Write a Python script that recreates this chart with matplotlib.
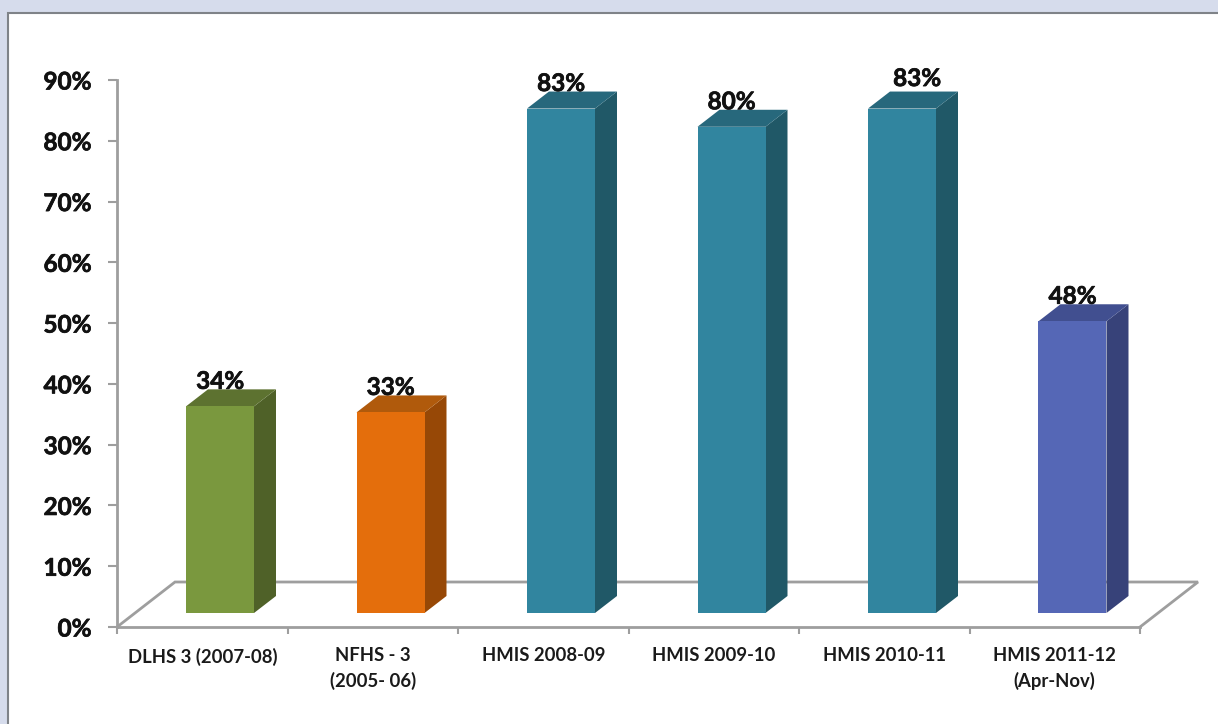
import matplotlib
matplotlib.use('Agg')
import matplotlib.pyplot as plt
import matplotlib.patheffects as pe
from matplotlib.patches import Polygon, Rectangle

plt.rcParams['font.family'] = ['Lato', 'DejaVu Sans']

categories = ['DLHS 3 (2007-08)', 'NFHS - 3\n(2005- 06)', 'HMIS 2008-09',
              'HMIS 2009-10', 'HMIS 2010-11', 'HMIS 2011-12\n(Apr-Nov)']
values = [34, 33, 83, 80, 83, 48]
y_ticks = [0, 10, 20, 30, 40, 50, 60, 70, 80, 90]

front_colors = ['#7a983e', '#e46e0c', '#31859f', '#31859f', '#31859f', '#5567b6']
side_colors = ['#4f6128', '#974806', '#205867', '#205867', '#205867', '#374279']
top_colors = ['#5d7230', '#b05a0c', '#27687c', '#27687c', '#27687c', '#414f90']

W, H = 1218, 724
fig = plt.figure(figsize=(W / 100, H / 100), dpi=100, facecolor='#d6dcec')

# white panel behind the chart
fig.add_artist(Rectangle((8 / W, -0.01), 1.01, (H - 13) / H + 0.01, transform=fig.transFigure,
                         facecolor='white', edgecolor='#7f8388', linewidth=1.5, zorder=-1))

ax = fig.add_axes([117 / W, (H - 627) / H, 1023 / W, 547 / H])
ax.set_xlim(0, 6)
ax.set_ylim(0, 90)
ax.patch.set_alpha(0)

# pixel sizes turned to data units
px_x = 6 / 1023
px_y = 90 / 547
depth_x = 22 * px_x
depth_y = 17 * px_y
base = 14 * px_y
bar_w = 68 * px_x
bar_off = 69 * px_x

# floor of the 3d chart
floor_dx = 58 * px_x
floor_dy = 45 * px_y
grey = '#9e9e9e'
ax.plot([0, floor_dx, 6 + floor_dx, 6], [0, floor_dy, floor_dy, 0], color=grey,
        lw=2, clip_on=False, solid_joinstyle='miter', zorder=1)

thick = [pe.withStroke(linewidth=0.5, foreground='#111111')]

for i, v in enumerate(values):
    x0 = i + bar_off
    x1 = x0 + bar_w
    y0 = base
    y1 = base + v
    ax.add_patch(Polygon([(x1, y0), (x1 + depth_x, y0 + depth_y), (x1 + depth_x, y1 + depth_y), (x1, y1)],
                         facecolor=side_colors[i], edgecolor='none', clip_on=False, zorder=3))
    ax.add_patch(Polygon([(x0, y1), (x1, y1), (x1 + depth_x, y1 + depth_y), (x0 + depth_x, y1 + depth_y)],
                         facecolor=top_colors[i], edgecolor='none', clip_on=False, zorder=3))
    ax.add_patch(Rectangle((x0, y0), bar_w, v, facecolor=front_colors[i], edgecolor='none',
                           clip_on=False, zorder=4))

    # the label of the fifth bar sits higher and to the right in the original
    nudge_x = 15 * px_x if i == 4 else 0
    nudge_y = 5 * px_y if i == 4 else 0
    ax.text(x0 + bar_w / 2 + nudge_x, y1 + 25 * px_y + nudge_y, str(v) + '%', ha='center', va='center',
            fontsize=17.5, fontweight='bold', color='#111111', zorder=5, clip_on=False, path_effects=thick)

for s in ['top', 'right']:
    ax.spines[s].set_visible(False)
for s in ['left', 'bottom']:
    ax.spines[s].set_color(grey)
    ax.spines[s].set_linewidth(2)

ax.set_yticks(y_ticks)
ax.set_yticklabels([str(t) + '%' for t in y_ticks], fontsize=17.5, fontweight='bold', color='#111111',
                   path_effects=thick)
ax.tick_params(axis='y', length=6.5, width=1.5, color=grey, pad=12)

ax.set_xticks(range(7))
ax.set_xticklabels([])
ax.tick_params(axis='x', length=5, width=1.5, color=grey)
for i, c in enumerate(categories):
    ax.annotate(c, (i + 0.5, 0), xytext=(0, -14.7), textcoords='offset points', ha='center', va='top',
                fontsize=13.3, fontweight='bold', color='#1a1a1a', linespacing=1.48, annotation_clip=False)

fig.savefig('out.png', dpi=100, facecolor=fig.get_facecolor())
